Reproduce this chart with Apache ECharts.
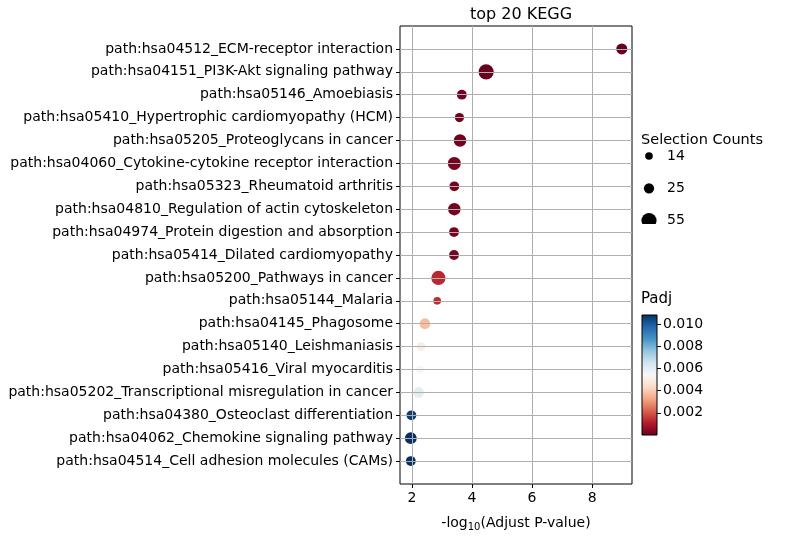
<!DOCTYPE html>
<html><head><meta charset="utf-8">
<script src="https://cdn.jsdelivr.net/npm/echarts@6/dist/echarts.min.js"></script>
<style>html,body{margin:0;padding:0;background:#fff}#c{width:787px;height:537px}</style>
</head><body><div id="c"></div>
<script>
const categories = [
'path:hsa04512_ECM-receptor interaction',
'path:hsa04151_PI3K-Akt signaling pathway',
'path:hsa05146_Amoebiasis',
'path:hsa05410_Hypertrophic cardiomyopathy (HCM)',
'path:hsa05205_Proteoglycans in cancer',
'path:hsa04060_Cytokine-cytokine receptor interaction',
'path:hsa05323_Rheumatoid arthritis',
'path:hsa04810_Regulation of actin cytoskeleton',
'path:hsa04974_Protein digestion and absorption',
'path:hsa05414_Dilated cardiomyopathy',
'path:hsa05200_Pathways in cancer',
'path:hsa05144_Malaria',
'path:hsa04145_Phagosome',
'path:hsa05140_Leishmaniasis',
'path:hsa05416_Viral myocarditis',
'path:hsa05202_Transcriptional misregulation in cancer',
'path:hsa04380_Osteoclast differentiation',
'path:hsa04062_Chemokine signaling pathway',
'path:hsa04514_Cell adhesion molecules (CAMs)'];
const negLogP = [8.99, 4.47, 3.66, 3.58, 3.60, 3.41, 3.41, 3.41, 3.40, 3.40, 2.88, 2.84, 2.43, 2.30, 2.27, 2.22, 1.98, 1.96, 1.96];
const counts  = [29, 55, 23, 20, 37, 40, 23, 37, 23, 23, 48, 14, 27, 18, 15, 27, 23, 33, 23];
const padj    = [0.000000001, 0.00002, 0.00012, 0.00014, 0.00013, 0.0002, 0.0002, 0.0002, 0.0002, 0.0002, 0.0013, 0.0014, 0.0037, 0.005, 0.0054, 0.006, 0.0105, 0.0108, 0.0108];
const xTicks = [2, 4, 6, 8];
const padjTicks = [0.002, 0.004, 0.006, 0.008, 0.010];
const sizeLegend = [14, 25, 55];

const RdBu = ['#67001f','#b2182b','#d6604d','#f4a582','#fddbc7','#f7f7f7','#d1e5f0','#92c5de','#4393c3','#2166ac','#053061'];
const FONT = 'DejaVu Sans';
const FS = 14;
const sizeOf = c => 2.05 * Math.sqrt(c);
const padjMin = 0, padjMax = 0.0108;

const data = categories.map((c, i) => [negLogP[i], i, counts[i], padj[i]]);
const catIdx = categories.map((c, i) => i);

const gradStops = RdBu.map((col, i) => ({offset: 1 - i / (RdBu.length - 1), color: col}));

const chart = echarts.init(document.getElementById('c'));

const legendGraphics = [];
legendGraphics.push({type:'text', left: 641, top: 133, style:{text:'Selection Counts', font:'14.5px "DejaVu Sans"', fill:'#000'}});
sizeLegend.forEach((v, i) => {
  const cy = 156 + i * 32.3;
  legendGraphics.push({type:'circle', shape:{cx: 649, cy: cy, r: sizeOf(v)/2}, style:{fill:'#000'}, z: 1});
  legendGraphics.push({type:'text', x: 667, y: cy, style:{text:String(v), font:'14px "DejaVu Sans"', fill:'#000', verticalAlign:'middle'}});
});
// the last legend marker is clipped at its bottom in the original
legendGraphics.push({type:'rect', shape:{x: 639, y: 224, width: 20, height: 5}, style:{fill:'#fff'}, z: 2});
legendGraphics.push({type:'text', left: 641, top: 292, style:{text:'Padj', font:'15px "DejaVu Sans"', fill:'#000'}});

chart.setOption({
  backgroundColor: '#fff',
  animation: false,
  title: {text: 'top 20 KEGG', left: 516, top: 2, textAlign: 'center',
    textStyle: {fontFamily: FONT, fontSize: 16, fontWeight: 'normal', color: '#000'}},
  grid: [
    {left: 400, top: 26, width: 232, height: 462, show: true, borderColor: '#000', borderWidth: 1, backgroundColor: 'transparent', z: 3},
    {left: 642, top: 315, width: 15, height: 120, show: true, borderColor: '#000', borderWidth: 1,
      backgroundColor: {type: 'linear', x: 0, y: 0, x2: 0, y2: 1, colorStops: gradStops}}
  ],
  xAxis: [
    {type: 'value', gridIndex: 0, min: 1.6, max: 9.33, z: 3, position: 'bottom',
     name: '-log{sub|10}(Adjust P-value)', nameLocation: 'middle', nameGap: 30,
     nameTextStyle: {fontFamily: FONT, fontSize: FS, color: '#000',
       rich: {sub: {fontFamily: FONT, fontSize: 10, color: '#000', padding: [8, 0, 0, 0]}}},
     axisLine: {show: false, onZero: false},
     axisTick: {show: true, length: 4, inside: false, lineStyle: {color: '#000'}, customValues: xTicks},
     axisLabel: {fontFamily: FONT, fontSize: FS, color: '#000', margin: 7, customValues: xTicks},
     splitLine: {show: true, lineStyle: {color: '#b0b0b0', width: 1}}},
    {type: 'value', gridIndex: 1, show: false, min: 0, max: 1}
  ],
  yAxis: [
    {type: 'value', gridIndex: 0, inverse: true, min: -1, max: 19, interval: 1, z: 3,
     axisLine: {show: false, onZero: false},
     axisTick: {show: true, length: 4, lineStyle: {color: '#000'}, customValues: catIdx},
     axisLabel: {fontFamily: FONT, fontSize: FS, color: '#000', margin: 7, customValues: catIdx,
       formatter: v => (v >= 0 && v < categories.length) ? categories[v] : ''},
     splitLine: {show: true, lineStyle: {color: '#b0b0b0', width: 1}}},
    {type: 'value', gridIndex: 1, position: 'right', min: padjMin, max: padjMax,
     axisLine: {show: false, onZero: false},
     axisTick: {show: true, length: 4, lineStyle: {color: '#000'}, customValues: padjTicks},
     axisLabel: {fontFamily: FONT, fontSize: FS, color: '#000', margin: 6, customValues: padjTicks,
       formatter: v => v.toFixed(3)},
     splitLine: {show: false}}
  ],
  visualMap: {show: false, type: 'continuous', dimension: 3, seriesIndex: 0,
    min: padjMin, max: padjMax, inRange: {color: RdBu}},
  graphic: legendGraphics,
  series: [{
    type: 'scatter', xAxisIndex: 0, yAxisIndex: 0, z: 1,
    data: data,
    symbolSize: v => sizeOf(v[2]),
    itemStyle: {opacity: 1}
  }]
});
</script></body></html>
